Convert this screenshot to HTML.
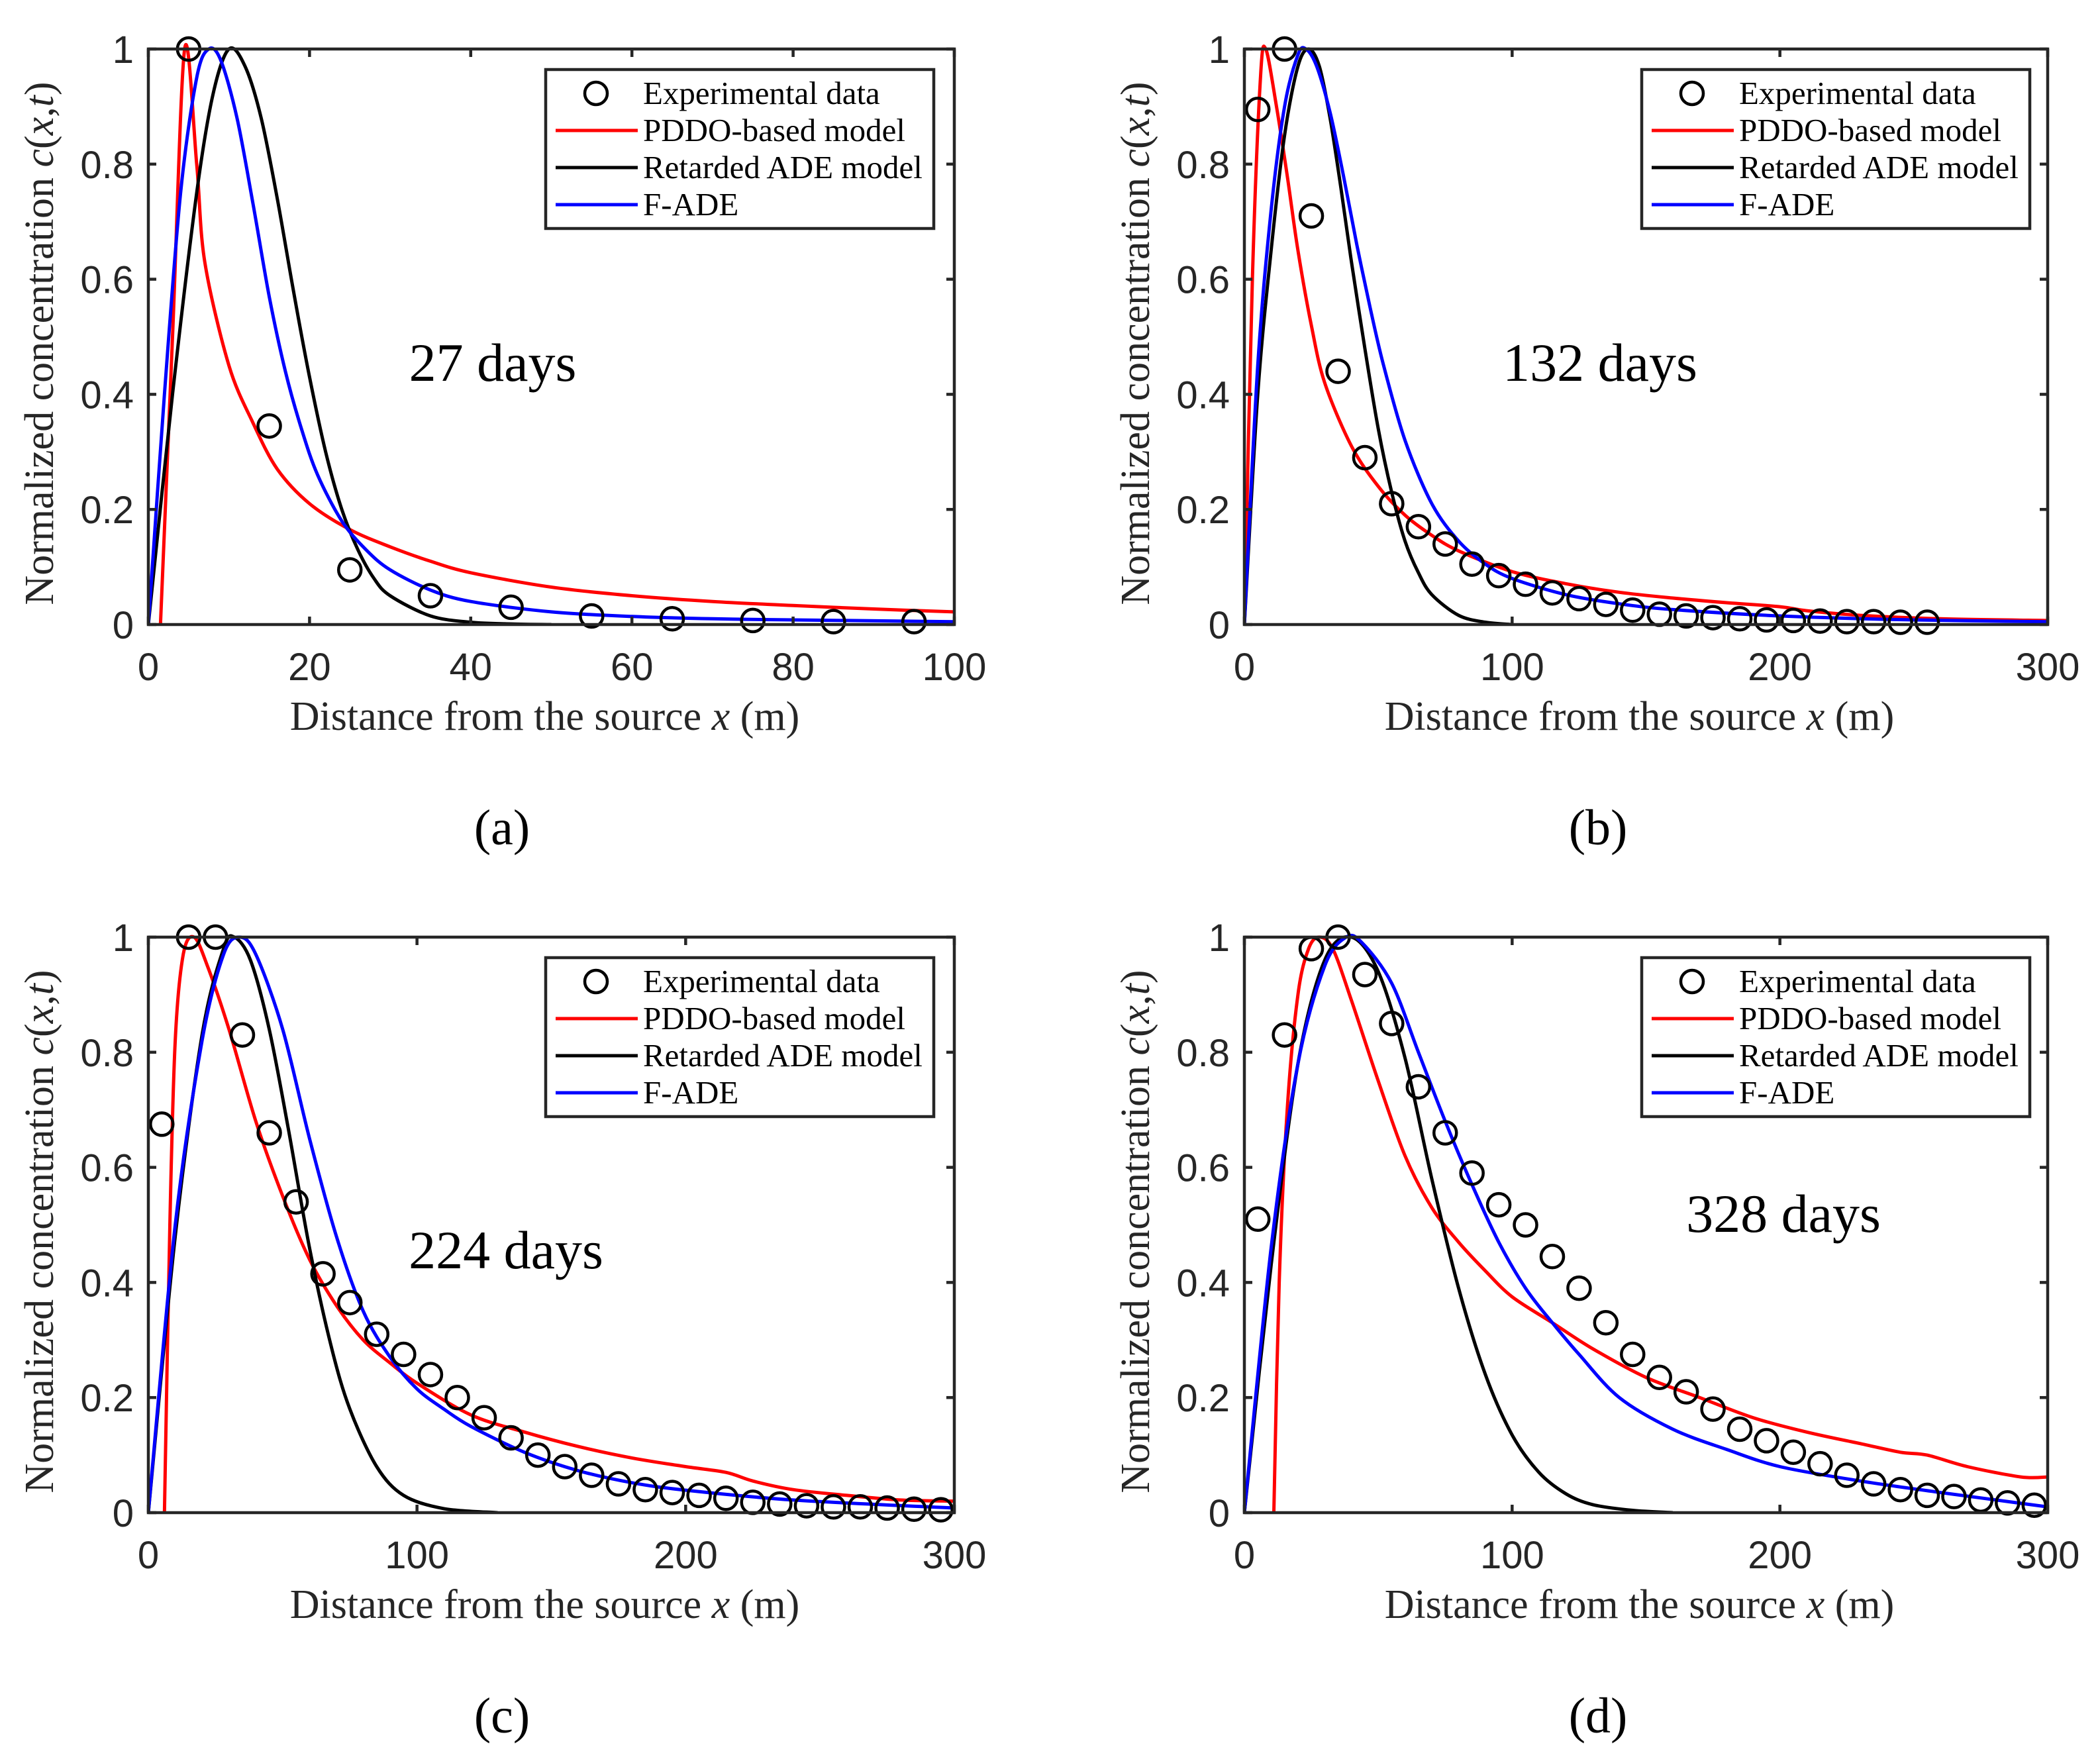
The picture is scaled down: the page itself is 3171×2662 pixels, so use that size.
<!DOCTYPE html>
<html><head><meta charset="utf-8">
<style>
html,body{margin:0;padding:0;background:#fff;}
svg{display:block;}
.tick{font-family:"Liberation Sans",sans-serif;font-size:58px;fill:#262626;}
.lab{font-family:"Liberation Serif",serif;font-size:62px;fill:#262626;}
.leg{font-family:"Liberation Serif",serif;font-size:49px;fill:#000;}
.ann{font-family:"Liberation Serif",serif;font-size:82px;fill:#000;}
.cap{font-family:"Liberation Serif",serif;font-size:76px;fill:#000;}
</style></head>
<body>
<svg id="fig" width="3171" height="2662" viewBox="0 0 3171 2662" xmlns="http://www.w3.org/2000/svg"></svg>
<script>
// ---- data ----
const xTicksA = [0,20,40,60,80,100];
const xTicksB = [0,100,200,300];
const yTicks = [0,0.2,0.4,0.6,0.8,1];
const yTickLabels = ["0","0.2","0.4","0.6","0.8","1"];
const legendLabels = ["Experimental data","PDDO-based model","Retarded ADE model","F-ADE"];
const panelDays = ["27 days","132 days","224 days","328 days"];
const panelCaps = ["(a)","(b)","(c)","(d)"];

const expA = [[5,1],[15,0.345],[25,0.095],[35,0.05],[45,0.03],[55,0.015],[65,0.01],[75,0.007],[85,0.005],[95,0.005]];
const pddoA = [[1.5,0],[3,0.5],[4.5,1],[6,0.8],[7,0.63],[10,0.45],[13,0.35],[16,0.27],[20,0.21],[25,0.165],[30,0.135],[35,0.11],[40,0.09],[50,0.065],[60,0.05],[70,0.04],[80,0.033],[90,0.027],[100,0.022]];
const radeA = [[0,0],[3,0.4],[6,0.75],[8,0.92],[10,1.0],[12,0.97],[14,0.88],[16,0.74],[18,0.58],[20,0.43],[22,0.3],[24,0.2],[26,0.13],[28,0.08],[30,0.05],[35,0.015],[40,0.004],[45,0.001],[50,0]];
const fadeA = [[0,0],[2,0.4],[4,0.75],[6,0.95],[7.5,1.0],[9,0.98],[11,0.88],[13,0.73],[15,0.57],[17,0.44],[19,0.34],[21,0.26],[24,0.18],[27,0.13],[30,0.095],[35,0.06],[40,0.04],[50,0.022],[60,0.014],[70,0.01],[80,0.008],[100,0.005]];

const expB = [[5,0.895],[15,1],[25,0.71],[35,0.44],[45,0.29],[55,0.21],[65,0.17],[75,0.14],[85,0.105],[95,0.085],[105,0.07],[115,0.055],[125,0.045],[135,0.035],[145,0.025],[155,0.018],[165,0.015],[175,0.012],[185,0.01],[195,0.008],[205,0.007],[215,0.006],[225,0.005],[235,0.005],[245,0.004],[255,0.004]];
const pddoB = [[0,0],[3,0.6],[6,0.95],[8,1],[12,0.9],[16,0.78],[20,0.65],[25,0.52],[30,0.42],[40,0.31],[50,0.24],[60,0.19],[70,0.155],[80,0.128],[100,0.092],[120,0.071],[140,0.056],[160,0.046],[180,0.038],[200,0.031],[210,0.024],[230,0.016],[260,0.01],[300,0.007]];
const radeB = [[0,0],[5,0.4],[10,0.65],[15,0.85],[20,0.97],[24,1],[28,0.97],[32,0.88],[36,0.76],[40,0.63],[45,0.48],[50,0.34],[55,0.23],[60,0.145],[65,0.09],[70,0.052],[80,0.016],[90,0.004],[100,0]];
const fadeB = [[0,0],[5,0.45],[10,0.72],[15,0.9],[20,0.99],[23,1],[27,0.97],[32,0.89],[37,0.78],[42,0.66],[47,0.55],[52,0.45],[60,0.32],[70,0.21],[80,0.145],[90,0.105],[100,0.08],[120,0.052],[140,0.036],[160,0.026],[200,0.015],[250,0.008],[300,0.005]];

const expC = [[5,0.675],[15,1],[25,1],[35,0.83],[45,0.66],[55,0.54],[65,0.415],[75,0.365],[85,0.31],[95,0.275],[105,0.24],[115,0.2],[125,0.165],[135,0.13],[145,0.1],[155,0.08],[165,0.065],[175,0.05],[185,0.04],[195,0.035],[205,0.03],[215,0.025],[225,0.018],[235,0.015],[245,0.012],[255,0.01],[265,0.01],[275,0.008],[285,0.006],[295,0.005]];
const pddoC = [[6,0],[8,0.5],[10,0.82],[13,0.97],[17,1],[22,0.95],[30,0.84],[40,0.68],[50,0.55],[60,0.44],[70,0.36],[80,0.3],[90,0.26],[100,0.225],[120,0.17],[140,0.14],[160,0.115],[180,0.095],[200,0.08],[215,0.07],[225,0.055],[240,0.04],[260,0.03],[280,0.022],[300,0.02]];
const radeC = [[0,0],[10,0.48],[20,0.83],[28,0.98],[32,1],[38,0.96],[45,0.84],[52,0.67],[60,0.46],[68,0.29],[75,0.18],[85,0.08],[95,0.03],[110,0.007],[130,0]];
const fadeC = [[0,0],[10,0.5],[20,0.82],[28,0.97],[34,1],[40,0.97],[50,0.84],[60,0.65],[70,0.48],[80,0.35],[90,0.27],[100,0.215],[110,0.18],[120,0.15],[140,0.105],[160,0.073],[180,0.052],[200,0.039],[240,0.022],[300,0.008]];

const expD = [[5,0.51],[15,0.83],[25,0.98],[35,1],[45,0.935],[55,0.85],[65,0.74],[75,0.66],[85,0.59],[95,0.535],[105,0.5],[115,0.445],[125,0.39],[135,0.33],[145,0.275],[155,0.235],[165,0.21],[175,0.18],[185,0.145],[195,0.125],[205,0.105],[215,0.085],[225,0.065],[235,0.05],[245,0.04],[255,0.03],[265,0.028],[275,0.022],[285,0.017],[295,0.013]];
const pddoD = [[11,0],[13,0.4],[16,0.7],[20,0.9],[24,0.98],[28,1],[33,0.98],[40,0.89],[50,0.75],[60,0.62],[70,0.53],[80,0.47],[90,0.42],[100,0.375],[115,0.33],[130,0.285],[150,0.235],[170,0.2],[190,0.165],[210,0.14],[230,0.12],[245,0.105],[255,0.1],[270,0.08],[290,0.062],[300,0.062]];
const radeD = [[0,0],[10,0.43],[20,0.78],[30,0.96],[40,1],[50,0.94],[60,0.79],[70,0.58],[80,0.39],[90,0.24],[100,0.135],[110,0.07],[120,0.033],[130,0.014],[145,0.004],[160,0]];
const fadeD = [[0,0],[10,0.46],[20,0.78],[30,0.95],[38,1],[44,0.99],[55,0.92],[65,0.8],[75,0.68],[85,0.57],[95,0.47],[105,0.39],[115,0.33],[125,0.275],[140,0.2],[160,0.145],[180,0.11],[200,0.08],[230,0.055],[260,0.035],[300,0.01]];

// ---- rendering ----
const NS = "http://www.w3.org/2000/svg";
const svg = document.getElementById('fig');
function mk(tag, attrs, parent){
  const e = document.createElementNS(NS, tag);
  for (const k in attrs) e.setAttribute(k, attrs[k]);
  (parent||svg).appendChild(e);
  return e;
}
function smoothPath(pts){
  let d = 'M' + pts[0][0].toFixed(1) + ' ' + pts[0][1].toFixed(1);
  for (let i = 0; i < pts.length - 1; i++) {
    const p0 = pts[Math.max(0, i-1)], p1 = pts[i], p2 = pts[i+1], p3 = pts[Math.min(pts.length-1, i+2)];
    const t = 0.16;
    const c1x = p1[0] + (p2[0]-p0[0])*t, c1y = p1[1] + (p2[1]-p0[1])*t;
    const c2x = p2[0] - (p3[0]-p1[0])*t, c2y = p2[1] - (p3[1]-p1[1])*t;
    d += ' C' + c1x.toFixed(1)+' '+c1y.toFixed(1)+' '+c2x.toFixed(1)+' '+c2y.toFixed(1)+' '+p2[0].toFixed(1)+' '+p2[1].toFixed(1);
  }
  return d;
}
const panels = [
  {key:'a', L:224, T:74, W:1217, H:869, xmax:100, ticks:xTicksA, exp:expA, pddo:pddoA, rade:radeA, fade:fadeA, legX:824, annX:744, annY:575},
  {key:'b', L:1879, T:74, W:1213, H:869, xmax:300, ticks:xTicksB, exp:expB, pddo:pddoB, rade:radeB, fade:fadeB, legX:2479, annX:2416, annY:575},
  {key:'c', L:224, T:1415, W:1217, H:869, xmax:300, ticks:xTicksB, exp:expC, pddo:pddoC, rade:radeC, fade:fadeC, legX:824, annX:764, annY:1915},
  {key:'d', L:1879, T:1415, W:1213, H:869, xmax:300, ticks:xTicksB, exp:expD, pddo:pddoD, rade:radeD, fade:fadeD, legX:2479, annX:2693, annY:1860}
];
panels.forEach((p, i) => {
  const g = mk('g', {});
  
  
  const sx = v => p.L + v / p.xmax * p.W;
  const sy = v => p.T + p.H - v * p.H;
  const B = p.T + p.H, R = p.L + p.W;
  const cp = mk('clipPath', {id:'clip'+p.key}, g);
  mk('rect', {x:p.L, y:p.T-30, width:p.W, height:p.H+30}, cp);
  const series = [[p.pddo,'#ff0000','pddo-curve'],[p.rade,'#000000','retarded-ade-curve'],[p.fade,'#0000ff','f-ade-curve']];
  series.forEach(s => {
    const pts = s[0].map(pt => [sx(pt[0]), sy(pt[1])]);
    const path = mk('path', {d:smoothPath(pts), fill:'none', stroke:s[1], 'stroke-width':5, 'stroke-linejoin':'round', 'clip-path':'url(#clip'+p.key+')'}, g);
    
    
  });
  p.exp.forEach(pt => {
    const c = mk('circle', {cx:sx(pt[0]), cy:sy(pt[1]), r:17, fill:'none', stroke:'#000', 'stroke-width':4.5}, g);
    
    
  });
  const box = mk('rect', {x:p.L, y:p.T, width:p.W, height:p.H, fill:'none', stroke:'#262626', 'stroke-width':4.5}, g);
  
  
  p.ticks.forEach(t => {
    const x = sx(t);
    mk('line', {x1:x, y1:B, x2:x, y2:B-12, stroke:'#262626', 'stroke-width':4.5}, g);
    mk('line', {x1:x, y1:p.T, x2:x, y2:p.T+12, stroke:'#262626', 'stroke-width':4.5}, g);
    const tx = mk('text', {x:x, y:B+84, 'text-anchor':'middle', class:'tick'}, g);
    tx.textContent = String(t);
    
    
  });
  yTicks.forEach((t, j) => {
    const y = sy(t);
    mk('line', {x1:p.L, y1:y, x2:p.L+12, y2:y, stroke:'#262626', 'stroke-width':4.5}, g);
    mk('line', {x1:R, y1:y, x2:R-12, y2:y, stroke:'#262626', 'stroke-width':4.5}, g);
    const ty = mk('text', {x:p.L-22, y:y+21, 'text-anchor':'end', class:'tick'}, g);
    ty.textContent = yTickLabels[j];
    
    
  });
  const xl = mk('text', {x:p.L+p.W/2-10, y:B+159, 'text-anchor':'middle', class:'lab'}, g);
  xl.innerHTML = 'Distance from the source <tspan font-style="italic">x</tspan> (m)';
  
  
  const yx = p.L - 144, yy = p.T + p.H/2 + 10;
  const yl = mk('text', {x:yx, y:yy, 'text-anchor':'middle', class:'lab', transform:'rotate(-90 '+yx+' '+yy+')'}, g);
  yl.innerHTML = 'Normalized concentration <tspan font-style="italic">c</tspan>(<tspan font-style="italic">x</tspan>,<tspan font-style="italic">t</tspan>)';
  
  
  const an = mk('text', {x:p.annX, y:p.annY, 'text-anchor':'middle', class:'ann'}, g);
  an.textContent = panelDays[i];
  
  
  const cap = mk('text', {x:p.L+534, y:B+332, 'text-anchor':'middle', class:'cap'}, g);
  cap.textContent = panelCaps[i];
  
  
  const lg = mk('g', {}, g);
  
  
  const lx = p.legX, ly = p.T + 31;
  mk('rect', {x:lx, y:ly, width:586, height:240, fill:'#fff', stroke:'#262626', 'stroke-width':4.5}, lg);
  const cols = [null,'#ff0000','#000000','#0000ff'];
  legendLabels.forEach((lab, j) => {
    const ry = ly + 36 + j * 56;
    if (j === 0) {
      mk('circle', {cx:lx+76, cy:ry, r:17, fill:'none', stroke:'#000', 'stroke-width':4.5}, lg);
    } else {
      mk('line', {x1:lx+15, y1:ry, x2:lx+139, y2:ry, stroke:cols[j], 'stroke-width':5}, lg);
    }
    const t = mk('text', {x:lx+147, y:ry+16, class:'leg'}, lg);
    t.textContent = lab;
    
    
  });
});
</script>
</body></html>
